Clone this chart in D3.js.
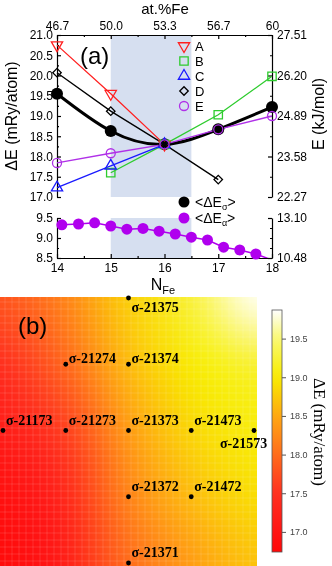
<!DOCTYPE html>
<html>
<head>
<meta charset="utf-8">
<script src="https://cdn.jsdelivr.net/npm/d3@7"></script>
<style>
body { margin: 0; background: #fff; }
#wrap { position: relative; width: 332px; height: 566px; overflow: hidden; }
canvas, svg { position: absolute; left: 0; top: 0; }
</style>
</head>
<body>
<div id="wrap">
  <canvas id="heat" width="332" height="566"></canvas>
  <svg id="chart" width="332" height="566"></svg>
</div>
<script>
// ---- panel (a) data ----
const nFe = [14, 15, 16, 17, 18];
const atFeLabels = ["46.7", "50.0", "53.3", "56.7", "60"];
const kjTopTicks = ["22.27", "23.58", "24.89", "26.20", "27.51"];
const kjBotTicks = ["10.48", "13.10"];

const serA = [20.75, 19.55, 18.3, null, null];
const serB = [null, 17.6, 18.3, 19.03, 19.98];
const serC = [17.23, 17.77, 18.3, null, null];
const serD = [20.07, 19.12, 18.3, 17.43, null];
const serE = [17.84, 18.08, 18.3, 18.67, 19.0];
const meanSigma = [19.55, 18.63, 18.3, 18.67, 19.22];

const alphaN = [14.09, 14.4, 14.7, 15.0, 15.3, 15.6, 15.9, 16.2, 16.5, 16.8, 17.1, 17.4, 17.7, 18.0];
const meanAlpha = [9.33, 9.35, 9.38, 9.3, 9.22, 9.24, 9.17, 9.1, 9.02, 8.95, 8.77, 8.7, 8.6, 8.45];

// ---- panel (b) data ----
const heatCols = [1, 2, 3, 4, 5];   // 3rd digit of the label
const heatRows = [5, 4, 3, 2, 1];   // 5th digit, top to bottom
const heatGrid = [
  [17.8, 18.2, 18.8, 19.25, 19.85],
  [17.45, 17.95, 18.65, 19.0, 19.2],
  [17.15, 17.6, 18.4, 18.85, 19.05],
  [16.9, 17.3, 18.2, 18.65, 18.9],
  [16.8, 17.15, 18.0, 18.4, 18.7]
];
const structures = ["σ-21375", "σ-21274", "σ-21374", "σ-21173", "σ-21273", "σ-21373",
  "σ-21473", "σ-21573", "σ-21372", "σ-21472", "σ-21371"];
const barTicks = [17.0, 17.5, 18.0, 18.5, 19.0, 19.5];
const barRange = [16.74, 19.87];

const svg = d3.select("#chart");
const sans = "'Liberation Sans', Arial, sans-serif";
const serif = "'Liberation Serif', 'Times New Roman', serif";

const x = d3.scaleLinear().domain([14, 18]).range([57, 272]);
const yT = d3.scaleLinear().domain([17, 21]).range([197, 35]);
const yB = d3.scaleLinear().domain([8.5, 9.5]).range([258, 218]);
const yTR = d3.scaleLinear().domain([22.27, 27.51]).range([197, 35]);
const yBR = d3.scaleLinear().domain([10.48, 13.10]).range([258, 218]);

// shaded band
svg.append("rect").attr("x", x(15)).attr("width", x(16.5) - x(15))
  .attr("y", yT(21)).attr("height", yT(17) - yT(21)).attr("fill", "#d6dff0");
svg.append("rect").attr("x", x(15)).attr("width", x(16.5) - x(15))
  .attr("y", yB(9.5)).attr("height", yB(8.5) - yB(9.5)).attr("fill", "#d6dff0");

function styleAxis(g, size) {
  g.attr("font-family", sans).attr("font-size", size || 12);
  g.selectAll("path,line").attr("stroke", "#000").attr("stroke-width", 1.2);
}
function minor(gen, vals, at, len) {
  svg.append("g").attr("transform", at)
    .call(gen.tickValues(vals).tickSizeInner(-len).tickSizeOuter(0).tickFormat(""))
    .call(g => { g.select(".domain").remove(); g.selectAll("line").attr("stroke", "#000").attr("stroke-width", 1.2); });
}

// upper panel axes
svg.append("g").attr("transform", `translate(${x(14)},0)`)
  .call(d3.axisLeft(yT).tickValues(d3.range(17, 21.01, 0.5)).tickFormat(d3.format(".1f")).tickSizeInner(-4).tickSizeOuter(0).tickPadding(4))
  .call(styleAxis);
minor(d3.axisLeft(yT), d3.range(17.25, 21, 0.5), `translate(${x(14)},0)`, 2);

svg.append("g").attr("transform", `translate(0,${yT(21)})`)
  .call(d3.axisTop(x).tickValues(nFe).tickFormat((d, i) => atFeLabels[i]).tickSizeInner(-4).tickSizeOuter(0).tickPadding(5))
  .call(styleAxis);
minor(d3.axisTop(x), [14.5, 15.5, 16.5, 17.5], `translate(0,${yT(21)})`, 2);

const kjTop = kjTopTicks.map(Number);
svg.append("g").attr("transform", `translate(${x(18)},0)`)
  .call(d3.axisRight(yTR).tickValues(kjTop).tickFormat((d, i) => kjTopTicks[i]).tickSizeInner(-4).tickSizeOuter(0).tickPadding(5))
  .call(styleAxis);
minor(d3.axisRight(yTR), d3.pairs(kjTop).map(p => (p[0] + p[1]) / 2), `translate(${x(18)},0)`, 2);

// lower panel axes
svg.append("g").attr("transform", `translate(${x(14)},0)`)
  .call(d3.axisLeft(yB).tickValues([8.5, 9.0, 9.5]).tickFormat(d3.format(".1f")).tickSizeInner(-4).tickSizeOuter(0).tickPadding(4))
  .call(styleAxis);
minor(d3.axisLeft(yB), [8.75, 9.25], `translate(${x(14)},0)`, 2);

svg.append("g").attr("transform", `translate(0,${yB(8.5)})`)
  .call(d3.axisBottom(x).tickValues(nFe).tickFormat(d3.format("d")).tickSizeInner(-4).tickSizeOuter(0).tickPadding(5))
  .call(styleAxis);
minor(d3.axisBottom(x), [14.5, 15.5, 16.5, 17.5], `translate(0,${yB(8.5)})`, 2);

const kjBot = kjBotTicks.map(Number);
svg.append("g").attr("transform", `translate(${x(18)},0)`)
  .call(d3.axisRight(yBR).tickValues(kjBot).tickFormat((d, i) => kjBotTicks[i]).tickSizeInner(-4).tickSizeOuter(0).tickPadding(5))
  .call(styleAxis);
minor(d3.axisRight(yBR), [1, 2, 3].map(k => kjBot[0] + k * (kjBot[1] - kjBot[0]) / 4), `translate(${x(18)},0)`, 2);

// axis titles
svg.append("text").attr("x", 165).attr("y", 14).attr("text-anchor", "middle")
  .attr("font-family", sans).attr("font-size", 15).text("at.%Fe");
svg.append("text").attr("transform", "translate(17,116) rotate(-90)").attr("text-anchor", "middle")
  .attr("font-family", sans).attr("font-size", 16).text("ΔE (mRy/atom)");
svg.append("text").attr("transform", "translate(324,114) rotate(-90)").attr("text-anchor", "middle")
  .attr("font-family", sans).attr("font-size", 16).text("E (kJ/mol)");
const nl = svg.append("text").attr("x", 163).attr("y", 290).attr("text-anchor", "middle")
  .attr("font-family", sans).attr("font-size", 16);
nl.append("tspan").text("N");
nl.append("tspan").attr("font-size", 11).attr("dy", 4).text("Fe");

svg.append("text").attr("x", 80).attr("y", 64).attr("font-family", sans).attr("font-size", 24).text("(a)");

// upper series
const series = [
  { name: "A", vals: serA, color: "#ff2020", sym: d3.symbolTriangle, rot: 180, size: 55 },
  { name: "B", vals: serB, color: "#2ecc2e", sym: d3.symbolSquare, rot: 0, size: 70 },
  { name: "C", vals: serC, color: "#1a1aff", sym: d3.symbolTriangle, rot: 0, size: 55 },
  { name: "D", vals: serD, color: "#000000", sym: d3.symbolSquare, rot: 45, size: 36 },
  { name: "E", vals: serE, color: "#b030e8", sym: d3.symbolCircle, rot: 0, size: 64 }
];
const line = d3.line().defined(d => d[1] != null).x(d => x(d[0])).y(d => yT(d[1]));

// thick mean curve first
svg.append("path").datum(nFe.map((n, i) => [n, meanSigma[i]]))
  .attr("d", d3.line().curve(d3.curveNatural).x(d => x(d[0])).y(d => yT(d[1])))
  .attr("fill", "none").attr("stroke", "#000").attr("stroke-width", 3);

series.forEach(s => {
  const pts = nFe.map((n, i) => [n, s.vals[i]]);
  svg.append("path").datum(pts).attr("d", line).attr("fill", "none")
    .attr("stroke", s.color).attr("stroke-width", 1.3);
});
svg.selectAll(".msig").data(nFe.map((n, i) => [n, meanSigma[i]])).join("circle")
  .attr("cx", d => x(d[0])).attr("cy", d => yT(d[1])).attr("r", 6).attr("fill", "#000");
series.forEach(s => {
  const pts = nFe.map((n, i) => [n, s.vals[i]]).filter(d => d[1] != null);
  svg.selectAll(null).data(pts).join("path")
    .attr("d", d3.symbol(s.sym, s.size))
    .attr("transform", d => `translate(${x(d[0])},${yT(d[1])}) rotate(${s.rot})`)
    .attr("fill", "none").attr("stroke", s.color).attr("stroke-width", 1.3);
});

// legend A-E
series.forEach((s, i) => {
  const ly = 46 + i * 15;
  svg.append("path").attr("d", d3.symbol(s.sym, s.size))
    .attr("transform", `translate(184,${ly}) rotate(${s.rot})`)
    .attr("fill", "none").attr("stroke", s.color).attr("stroke-width", 1.3);
  svg.append("text").attr("x", 195).attr("y", ly + 5).attr("font-family", sans)
    .attr("font-size", 13).text(s.name);
});

// lower series
const aPts = alphaN.map((n, i) => [n, meanAlpha[i]]);
svg.append("clipPath").attr("id", "clipB").append("rect")
  .attr("x", x(14)).attr("y", yB(9.5) - 10).attr("width", x(18) - x(14)).attr("height", yB(8.5) - yB(9.5) + 10);
svg.append("path").datum(aPts).attr("clip-path", "url(#clipB)")
  .attr("d", d3.line().x(d => x(d[0])).y(d => yB(d[1])))
  .attr("fill", "none").attr("stroke", "#b000ee").attr("stroke-width", 1.5);
svg.selectAll(".ma").data(aPts.filter(d => d[1] >= 8.5)).join("circle")
  .attr("cx", d => x(d[0])).attr("cy", d => yB(d[1])).attr("r", 5.5).attr("fill", "#b000ee");

// legend means
const lg = [{ c: "#000", sub: "σ", y: 202 }, { c: "#b000ee", sub: "α", y: 218 }];
lg.forEach(l => {
  svg.append("circle").attr("cx", 184).attr("cy", l.y).attr("r", 5.5).attr("fill", l.c);
  const t = svg.append("text").attr("x", 195).attr("y", l.y + 5).attr("font-family", sans).attr("font-size", 14);
  t.append("tspan").text("<ΔE");
  t.append("tspan").attr("font-size", 9).attr("dy", 3).text(l.sub);
  t.append("tspan").attr("dy", -3).text(">");
});

// ---- panel (b) heat map ----
const heatColor = d3.scaleLinear()
  .domain([16.74, 17.0, 17.5, 18.0, 18.5, 19.0, 19.5, 19.87])
  .range(["#ff0808", "#ff1414", "#ff3020", "#ff6c1c", "#ffa812", "#f8ec00", "#f9f870", "#ffffff"])
  .clamp(true);
const xHeat = d3.scaleLinear().domain([1, 5]).range([3, 254]);
const yHeat = d3.scaleLinear().domain([1, 5]).range([563, 298]);
const heatBox = { x0: 0, y0: 297, x1: 257, y1: 566 };

const ctx = document.getElementById("heat").getContext("2d");
const off = document.createElement("canvas");
off.width = 7; off.height = 7;
const octx = off.getContext("2d");
const img = octx.createImageData(7, 7);
for (let j = 0; j < 7; j++) {
  for (let i = 0; i < 7; i++) {
    const r = Math.min(4, Math.max(0, j - 1));
    const c = Math.min(4, Math.max(0, i - 1));
    const col = d3.rgb(heatColor(heatGrid[r][c]));
    const k = (j * 7 + i) * 4;
    img.data[k] = col.r; img.data[k + 1] = col.g; img.data[k + 2] = col.b; img.data[k + 3] = 255;
  }
}
octx.putImageData(img, 0, 0);
const cdx = xHeat(2) - xHeat(1), cdy = yHeat(1) - yHeat(2);
ctx.save();
ctx.beginPath();
ctx.rect(heatBox.x0, heatBox.y0, heatBox.x1 - heatBox.x0, heatBox.y1 - heatBox.y0);
ctx.clip();
ctx.imageSmoothingEnabled = true;
ctx.imageSmoothingQuality = "high";
ctx.drawImage(off, xHeat(heatCols[0]) - 1.5 * cdx, yHeat(heatRows[0]) - 1.5 * cdy, 7 * cdx, 7 * cdy);
ctx.restore();

// faint grid over heat map
const grid = svg.append("g").attr("stroke", "#fff").attr("stroke-opacity", 0.13).attr("stroke-width", 1);
d3.range(heatBox.x0 + 5, heatBox.x1, 7).forEach(v =>
  grid.append("line").attr("x1", v).attr("x2", v).attr("y1", heatBox.y0).attr("y2", heatBox.y1));
d3.range(heatBox.y0 + 5, heatBox.y1, 7).forEach(v =>
  grid.append("line").attr("y1", v).attr("y2", v).attr("x1", heatBox.x0).attr("x2", heatBox.x1));

svg.append("text").attr("x", 18).attr("y", 334).attr("font-family", sans).attr("font-size", 24).text("(b)");

// structure dots and labels (column = 3rd digit, row = 5th digit)
const labelOff = { "σ-21375": [3, 14], "σ-21573": [-34, 17], "σ-21274": [3, -1], "σ-21374": [3, -1] };
structures.forEach(s => {
  const code = s.slice(2);
  const c = +code[2], r = +code[4];
  const cx = xHeat(c), cy = yHeat(r);
  svg.append("circle").attr("cx", cx).attr("cy", cy).attr("r", 2.4).attr("fill", "#000");
  const o = labelOff[s] || [3, -6];
  svg.append("text").attr("x", cx + o[0]).attr("y", cy + o[1])
    .attr("font-family", serif).attr("font-weight", "bold").attr("font-size", 14).text(s);
});

// colour bar
const yBar = d3.scaleLinear().domain(barRange).range([552, 310]);
const grad = svg.append("defs").append("linearGradient").attr("id", "cbar")
  .attr("x1", 0).attr("y1", 1).attr("x2", 0).attr("y2", 0);
d3.range(0, 1.0001, 0.05).forEach(t => {
  grad.append("stop").attr("offset", t)
    .attr("stop-color", heatColor(barRange[0] + t * (barRange[1] - barRange[0])));
});
svg.append("rect").attr("x", 272).attr("y", yBar(barRange[1])).attr("width", 10)
  .attr("height", yBar(barRange[0]) - yBar(barRange[1]))
  .attr("fill", "url(#cbar)").attr("stroke", "#555").attr("stroke-width", 0.8);
svg.append("g").attr("transform", "translate(282,0)")
  .call(d3.axisRight(yBar).tickValues(barTicks).tickFormat(d3.format(".1f")).tickSize(4).tickPadding(4))
  .call(g => {
    g.select(".domain").remove();
    g.selectAll("line").attr("stroke", "#555");
    g.selectAll("text").attr("fill", "#444").attr("font-family", sans).attr("font-size", 9);
  });
svg.append("text").attr("transform", "translate(314,432) rotate(90)").attr("text-anchor", "middle")
  .attr("font-family", serif).attr("font-size", 17).text("ΔE (mRy/atom)");
</script>
</body>
</html>
